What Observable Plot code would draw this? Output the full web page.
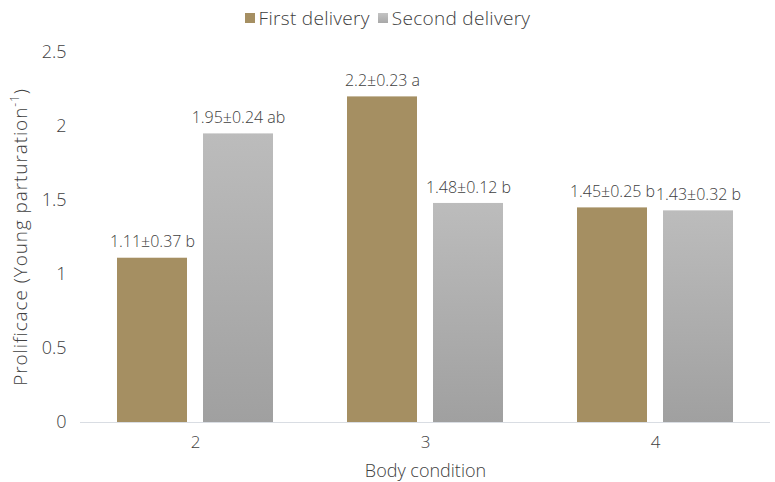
<!DOCTYPE html>
<html>
<head>
<meta charset="utf-8">
<script src="https://cdn.jsdelivr.net/npm/d3@7"></script>
<script src="https://cdn.jsdelivr.net/npm/@observablehq/plot@0.6"></script>
<style>
  html, body { margin: 0; padding: 0; background: #fff; }
  body { width: 775px; height: 482px; overflow: hidden; font-family: "Open Sans", Lato, sans-serif; font-weight: 300; color: #404040; }
  #legend { height: 36px; display: flex; justify-content: center; align-items: center; font-size: 19px; gap: 8px; padding-left: 0px; box-sizing: border-box; letter-spacing: 0.3px; }
  .item { display: flex; align-items: center; gap: 4px; }
  .sw { width: 10px; height: 10px; display: inline-block; }
</style>
</head>
<body>
<div id="legend">
  <span class="item"><span class="sw" style="background:#A58F62"></span>First delivery</span>
  <span class="item"><span class="sw" style="background:linear-gradient(#c4c4c4,#a8a8a8)"></span>Second delivery</span>
</div>
<div id="chart"></div>
<script>
const categories = ["2", "3", "4"];
const seriesNames = ["First delivery", "Second delivery"];
const firstMeans = [1.11, 2.2, 1.45];
const secondMeans = [1.95, 1.48, 1.43];
const firstSE = ["0.37", "0.23", "0.25"];
const secondSE = ["0.24", "0.12", "0.32"];
const firstLetters = ["b", "a", "b"];
const secondLetters = ["ab", "b", "b"];
const yTicks = [0, 0.5, 1, 1.5, 2, 2.5];
const yTickLabels = ["0", "0.5", "1", "1.5", "2", "2.5"];

const data = [];
categories.forEach((c, i) => {
  data.push({cat: c, series: seriesNames[0], value: firstMeans[i], label: `${firstMeans[i]}±${firstSE[i]} ${firstLetters[i]}`});
  data.push({cat: c, series: seriesNames[1], value: secondMeans[i], label: `${secondMeans[i]}±${secondSE[i]} ${secondLetters[i]}`});
});

const textColor = "#404040";
const font = "'Open Sans', Lato, sans-serif";
const plot = Plot.plot({
  width: 775,
  height: 446,
  marginLeft: 80,
  marginRight: 5,
  marginTop: 16,
  marginBottom: 60,
  style: {fontFamily: font, fontWeight: 300, color: textColor, background: "white"},
  fx: {domain: categories, padding: 0},
  x: {domain: seriesNames, paddingInner: 0.186, paddingOuter: 0.43, axis: null},
  y: {domain: [0, 2.5]},
  marks: [
    Plot.axisY({ticks: yTicks, tickFormat: (d) => yTickLabels[yTicks.indexOf(d)], tickSize: 0, tickPadding: 14, fontSize: 18, label: null, fill: textColor}),
    Plot.axisFx({anchor: "bottom", tickSize: 0, tickPadding: 13, fontSize: 17, label: "Body condition", labelAnchor: "center", labelArrow: "none", labelOffset: 54, fill: textColor}),
    Plot.barY(data.filter(d => d.series === seriesNames[0]), {fx: "cat", x: "series", y: "value", fill: "#A58F62"}),
    Plot.barY(data.filter(d => d.series === seriesNames[1]), {fx: "cat", x: "series", y: "value", fill: "url(#grayGrad)"}),
    Plot.ruleY([0], {stroke: "#d9dde3", strokeWidth: 1.2}),
    Plot.text(data, {fx: "cat", x: "series", y: "value", text: "label", dy: -16, fontSize: 16, fill: textColor})
  ]
});

const svg = d3.select(plot);
svg.selectAll("[aria-label='fx-axis label'] text").attr("font-size", 18);
const defs = svg.insert("defs", ":first-child");
const g = defs.append("linearGradient").attr("id", "grayGrad").attr("x1", 0).attr("y1", 0).attr("x2", 0).attr("y2", 1);
g.append("stop").attr("offset", "0%").attr("stop-color", "#bcbcbc");
g.append("stop").attr("offset", "100%").attr("stop-color", "#a0a0a0");

// rotated y-axis title with superscript
const yt = svg.append("text")
  .attr("transform", `translate(27, ${(16 + 386) / 2}) rotate(-90)`)
  .attr("text-anchor", "middle")
  .attr("fill", textColor)
  .attr("font-size", 19)
  .attr("letter-spacing", 0.9)
  .attr("font-family", font)
  .attr("font-weight", 300);
yt.append("tspan").text("Prolificace (Young parturation");
yt.append("tspan").attr("font-size", 12).attr("dy", -8).text("-1");
yt.append("tspan").attr("dy", 8).text(")");

document.getElementById("chart").append(plot);
</script>
</body>
</html>
